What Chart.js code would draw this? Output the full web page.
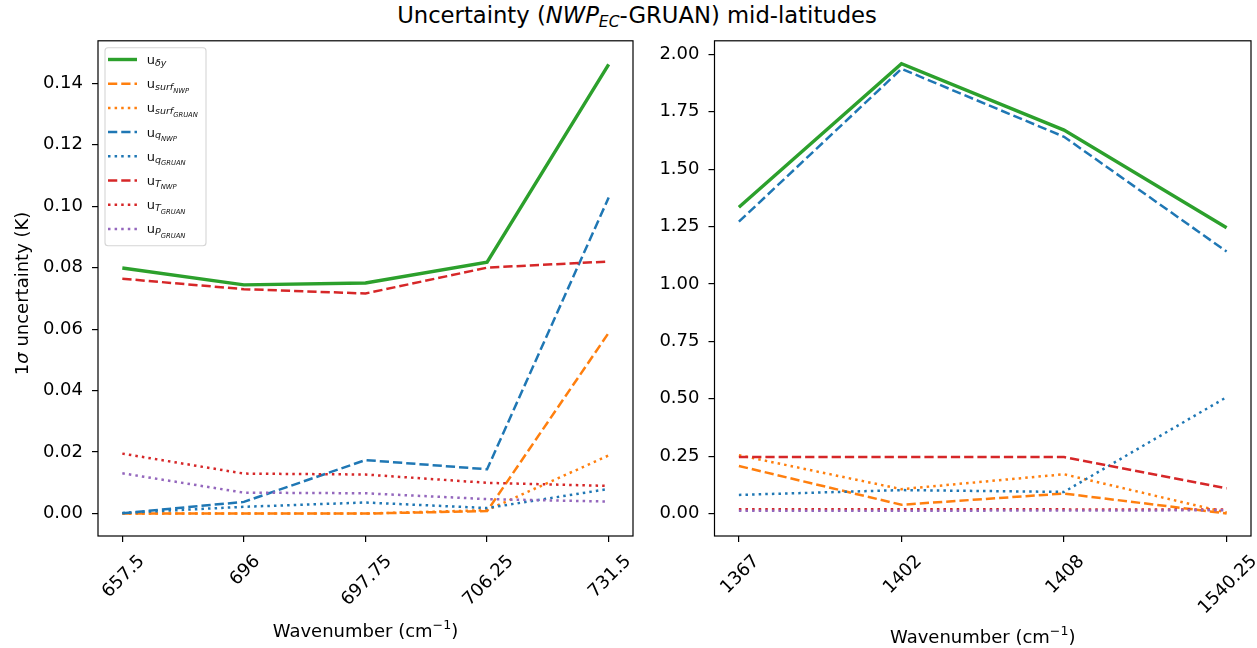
<!DOCTYPE html>
<html><head><meta charset="utf-8">
<script src="https://cdn.jsdelivr.net/npm/chart.js@4"></script>
<style>
html,body{margin:0;padding:0;background:#fff;width:1257px;height:648px;overflow:hidden;font-family:"DejaVu Sans";}
#title{position:absolute;top:0px;left:637px;transform:translateX(-50%);font-size:22.7px;white-space:nowrap;color:#000;line-height:30px;}
#title sub{font-size:15.5px;vertical-align:-4px;line-height:0;}
canvas{position:absolute;top:21px;}
</style></head>
<body>
<div id="title">Uncertainty (<i>NWP<sub>EC</sub></i>-GRUAN) mid-latitudes</div>
<canvas id="c1" width="640" height="627" style="left:0"></canvas>
<canvas id="c2" width="617" height="627" style="left:640px"></canvas>
<script>
// ---------- data ----------
const leftCategories  = ['657.5','696','697.75','706.25','731.5'];
const rightCategories = ['1367','1402','1408','1540.25'];

const uDy_L        = [0.0799, 0.0744, 0.0750, 0.0818, 0.1461];
const uSurfNWP_L   = [0.0000, 0.0000, 0.0000, 0.0008, 0.0588];
const uSurfGRUAN_L = [0.0000, 0.0000, 0.0000, 0.0011, 0.0189];
const uqNWP_L      = [0.0001, 0.0038, 0.0174, 0.0144, 0.1028];
const uqGRUAN_L    = [0.0002, 0.0022, 0.0036, 0.0018, 0.0080];
const uTNWP_L      = [0.0764, 0.0730, 0.0716, 0.0800, 0.0820];
const uTGRUAN_L    = [0.0195, 0.0130, 0.0127, 0.0100, 0.0090];
const uPGRUAN_L    = [0.0131, 0.0068, 0.0066, 0.0047, 0.0039];

const uDy_R        = [1.334, 1.959, 1.670, 1.245];
const uSurfNWP_R   = [0.207, 0.038, 0.087, 0.000];
const uSurfGRUAN_R = [0.254, 0.106, 0.171, 0.004];
const uqNWP_R      = [1.271, 1.937, 1.641, 1.141];
const uqGRUAN_R    = [0.081, 0.102, 0.094, 0.507];
const uTNWP_R      = [0.246, 0.246, 0.246, 0.110];
const uTGRUAN_R    = [0.018, 0.018, 0.018, 0.017];
const uPGRUAN_R    = [0.012, 0.012, 0.013, 0.014];

const leftYTicks  = [0.00, 0.02, 0.04, 0.06, 0.08, 0.10, 0.12, 0.14];
const rightYTicks = [0.00, 0.25, 0.50, 0.75, 1.00, 1.25, 1.50, 1.75, 2.00];

// legend labels: [main, subscript, sub-subscript]
const seriesLabels = [
  ['u','δy'], ['u','surf','NWP'], ['u','surf','GRUAN'], ['u','q','NWP'],
  ['u','q','GRUAN'], ['u','T','NWP'], ['u','T','GRUAN'], ['u','P','GRUAN']
];
const yTitleParts = [['1', false], ['σ', true], [' uncertainty (K)', false]];
const xTitleParts = [['Wavenumber (cm', 0], ['−1', 1], [')', 0]];

// ---------- styles ----------
const DASH = [9.25, 4], DOT = [2.5, 4.1];
const seriesStyles = [
  {color:'#2ca02c', dash:[],   width:3.4},
  {color:'#ff7f0e', dash:DASH, width:2.5},
  {color:'#ff7f0e', dash:DOT,  width:2.5},
  {color:'#1f77b4', dash:DASH, width:2.5},
  {color:'#1f77b4', dash:DOT,  width:2.5},
  {color:'#d62728', dash:DASH, width:2.5},
  {color:'#d62728', dash:DOT,  width:2.5},
  {color:'#9467bd', dash:DOT,  width:2.5}
];
const FONT = '"DejaVu Sans"';
const TICK_SIZE = 18;

function drawLegend(chart) {
  const {ctx, chartArea:a} = chart;
  const left = a.left + 7, top = a.top + 7, w = 101, h = 198;
  ctx.save();
  ctx.fillStyle = 'rgba(255,255,255,0.8)';
  ctx.strokeStyle = '#d5d5d5';
  ctx.lineWidth = 1.1;
  ctx.beginPath();
  if (ctx.roundRect) ctx.roundRect(left, top, w, h, 3); else ctx.rect(left, top, w, h);
  ctx.fill(); ctx.stroke();
  seriesLabels.forEach((parts, i) => {
    const st = seriesStyles[i];
    const y = top + 11.7 + i * 24.2;
    ctx.save();
    ctx.strokeStyle = st.color; ctx.lineWidth = st.width; ctx.setLineDash(st.dash);
    ctx.beginPath(); ctx.moveTo(left + 3, y); ctx.lineTo(left + 32, y); ctx.stroke();
    ctx.restore();
    let x = left + 41.7;
    const base = y + 4.5;
    const specs = [
      {size:13, it:false, dy:0},
      {size:9.5, it:true, dy:1.8},
      {size:6.8, it:true, dy:4.4}
    ];
    ctx.fillStyle = '#111'; ctx.textAlign = 'left'; ctx.textBaseline = 'alphabetic';
    parts.forEach((t, k) => {
      const sp = specs[k];
      ctx.font = (sp.it ? 'italic ' : '') + sp.size + 'px ' + FONT;
      ctx.fillText(t, x, base + sp.dy);
      x += ctx.measureText(t).width;
    });
  });
  ctx.restore();
}

function drawYTitle(chart) {
  const {ctx, chartArea:a} = chart;
  ctx.save();
  ctx.translate(27.5, (a.top + a.bottom) / 2 + 5);
  ctx.rotate(-Math.PI / 2);
  ctx.fillStyle = '#000'; ctx.textBaseline = 'alphabetic'; ctx.textAlign = 'left';
  let total = 0;
  yTitleParts.forEach(([t, it]) => { ctx.font = (it ? 'italic ' : '') + TICK_SIZE + 'px ' + FONT; total += ctx.measureText(t).width; });
  let x = -total / 2;
  yTitleParts.forEach(([t, it]) => {
    ctx.font = (it ? 'italic ' : '') + TICK_SIZE + 'px ' + FONT;
    ctx.fillText(t, x, 0);
    x += ctx.measureText(t).width;
  });
  ctx.restore();
}

function drawXTitle(chart, centerY) {
  const {ctx, chartArea:a} = chart;
  ctx.save();
  ctx.fillStyle = '#000'; ctx.textBaseline = 'alphabetic'; ctx.textAlign = 'left';
  const fontFor = sup => (sup ? TICK_SIZE * 0.7 : TICK_SIZE) + 'px ' + FONT;
  let total = 0;
  xTitleParts.forEach(([t, sup]) => { ctx.font = fontFor(sup); total += ctx.measureText(t).width; });
  let x = (a.left + a.right) / 2 - total / 2;
  const base = centerY + 0.36 * TICK_SIZE;
  xTitleParts.forEach(([t, sup]) => {
    ctx.font = fontFor(sup);
    ctx.fillText(t, x, sup ? base - 0.45 * TICK_SIZE : base);
    x += ctx.measureText(t).width;
  });
  ctx.restore();
}

const decorPlugin = {
  id: 'decor',
  afterDatasetsDraw(chart) {
    const {ctx, chartArea:a} = chart;
    ctx.save();
    ctx.strokeStyle = '#000'; ctx.lineWidth = 1.2;
    ctx.strokeRect(a.left, a.top, a.right - a.left, a.bottom - a.top);
    ctx.restore();
  },
  afterDraw(chart) {
    const o = chart.options.plugins.decor;
    const s = chart.scales.x, ctx = chart.ctx, a = chart.chartArea;
    ctx.save();
    ctx.font = TICK_SIZE + 'px ' + FONT; ctx.fillStyle = '#000';
    o.labels.forEach((lab, i) => {
      const x = s.getPixelForValue(i);
      const w = ctx.measureText(lab).width;
      const cap = 0.73 * TICK_SIZE;
      const ext = (w + cap) * Math.SQRT1_2;
      const cy = a.bottom + 16.5 + ext / 2;
      ctx.save();
      ctx.translate(x, cy); ctx.rotate(-Math.PI / 4);
      ctx.textAlign = 'center'; ctx.textBaseline = 'alphabetic';
      ctx.fillText(lab, 0, cap / 2);
      ctx.restore();
    });
    ctx.restore();
    drawXTitle(chart, o.xTitleY);
    if (o.yTitle) drawYTitle(chart);
    if (o.legend) drawLegend(chart);
  }
};

function makeChart(id, cats, series, yMin, yMax, yTicks, axisW, padRight, xTitleY, showYTitle, legend) {
  const n = cats.length;
  const xm = 0.05 * (n - 1);
  const datasets = series.map((vals, i) => ({
    data: vals.map((v, j) => ({x: j, y: v})),
    borderColor: seriesStyles[i].color,
    borderWidth: seriesStyles[i].width,
    borderDash: seriesStyles[i].dash,
    borderCapStyle: 'butt',
    pointRadius: 0, tension: 0, fill: false,
    order: -i
  }));
  return new Chart(document.getElementById(id), {
    type: 'line',
    data: {datasets},
    plugins: [decorPlugin],
    options: {
      responsive: false, animation: false, devicePixelRatio: 1,
      layout: {padding: {top: 10, right: padRight, left: 0, bottom: 0}},
      plugins: {legend: {display: false}, tooltip: {enabled: false},
                decor: {labels: cats, legend: legend, yTitle: showYTitle, xTitleY: xTitleY}},
      scales: {
        x: {
          type: 'linear', min: -xm, max: (n - 1) + xm,
          afterFit(s) { s.height = 112; },
          afterBuildTicks(s) { s.ticks = cats.map((c, j) => ({value: j})); },
          ticks: {display: false},
          grid: {display: true, drawOnChartArea: false, drawTicks: true, tickLength: 6, color: '#000', lineWidth: 1.2},
          border: {display: false},
          title: {display: false}
        },
        y: {
          type: 'linear', min: yMin, max: yMax,
          afterFit(s) { s.width = axisW; },
          afterBuildTicks(s) { s.ticks = yTicks.map(v => ({value: v})); },
          ticks: {color: '#000', font: {family: 'DejaVu Sans', size: TICK_SIZE}, padding: 9,
                  callback: v => Number(v).toFixed(2)},
          grid: {display: true, drawOnChartArea: false, drawTicks: true, tickLength: 6, color: '#000', lineWidth: 1.2},
          border: {display: false},
          title: {display: false}
        }
      }
    }
  });
}

// xTitleY is in canvas coordinates (canvas top at page y=21)
makeChart('c1', leftCategories,
  [uDy_L, uSurfNWP_L, uSurfGRUAN_L, uqNWP_L, uqGRUAN_L, uTNWP_L, uTGRUAN_L, uPGRUAN_L],
  -0.0073, 0.1538, leftYTicks, 98, 7, 610, true, true);
makeChart('c2', rightCategories,
  [uDy_R, uSurfNWP_R, uSurfGRUAN_R, uqNWP_R, uqGRUAN_R, uTNWP_R, uTGRUAN_R, uPGRUAN_R],
  -0.098, 2.059, rightYTicks, 74.5, 6, 616, false, false);
</script>
</body></html>
